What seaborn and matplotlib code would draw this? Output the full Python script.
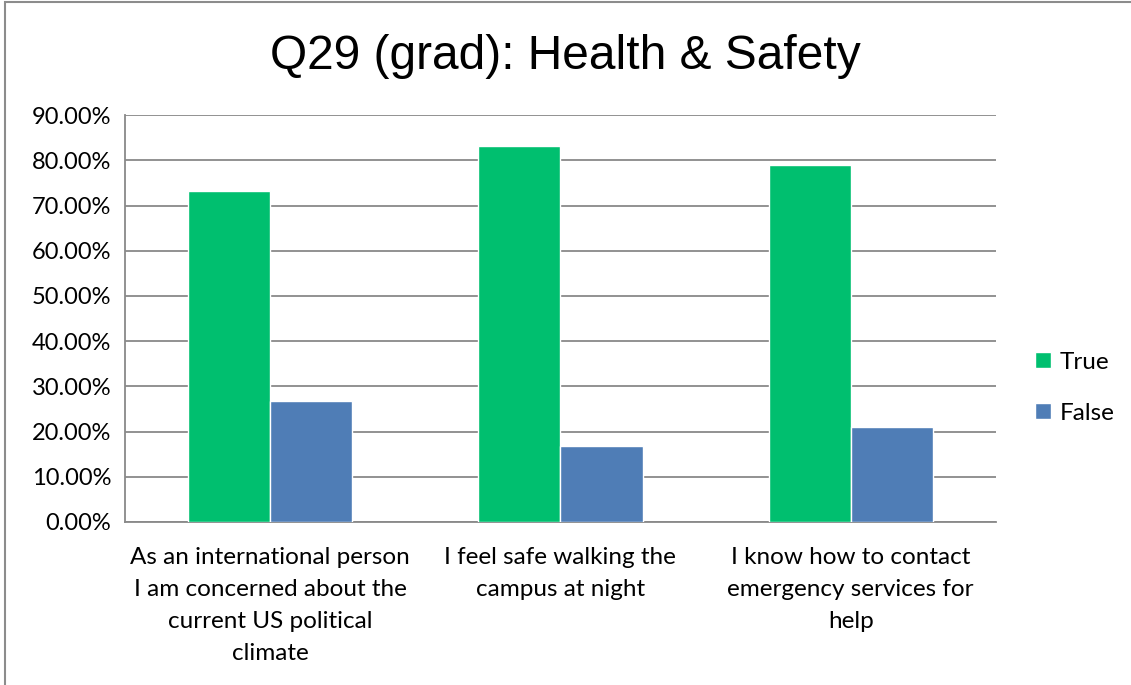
import seaborn as sns
import matplotlib.pyplot as plt
import matplotlib.ticker as mticker
from matplotlib.patches import Rectangle
import pandas as pd

# -----------------------
# Data
# -----------------------
categories = [
    "As an international person\nI am concerned about the\ncurrent US political\nclimate",
    "I feel safe walking the\ncampus at night",
    "I know how to contact\nemergency services for\nhelp",
]
true_vals = [0.732, 0.832, 0.790]
false_vals = [0.268, 0.168, 0.210]
series = ["True", "False"]
colors = ["#00BF6F", "#4F7DB6"]

df = pd.DataFrame({
    "Question": categories * 2,
    "Answer": ["True"] * 3 + ["False"] * 3,
    "Share": true_vals + false_vals,
})

# -----------------------
# Plot
# -----------------------
sns.set_style("white")
plt.rcParams["font.family"] = ["Lato", "DejaVu Sans"]
plt.rcParams["text.color"] = "black"
plt.rcParams["xtick.color"] = "black"
plt.rcParams["ytick.color"] = "black"

fig = plt.figure(figsize=(11.31, 6.85), dpi=100)
ax = fig.add_axes([0.1105, 0.238, 0.770, 0.594])

sns.barplot(
    data=df, x="Question", y="Share", hue="Answer",
    hue_order=series, palette=colors, width=0.566,
    saturation=1, ax=ax, zorder=3,
)

grid_c = "#898989"
ax.set_ylim(0, 0.9)
ax.set_xlim(-0.5, 2.5)
ax.yaxis.set_major_locator(mticker.MultipleLocator(0.1))
ax.yaxis.set_major_formatter(mticker.FuncFormatter(lambda v, p: f"{v * 100:.2f}%"))
ax.grid(axis="y", color=grid_c, linewidth=1.3, zorder=0)
ax.set_axisbelow(True)

for s in ["top", "right"]:
    ax.spines[s].set_visible(False)
for s in ["left", "bottom"]:
    ax.spines[s].set_color(grid_c)
    ax.spines[s].set_linewidth(1.3)

# category separators as outward ticks on x
ax.set_xticks([0, 1, 2])
ax.set_xticklabels(categories, fontsize=17.5, linespacing=1.65, va="top")
ax.set_xticks([-0.5, 0.5, 1.5, 2.5], minor=True)
ax.tick_params(axis="x", which="major", length=0, pad=18)
ax.tick_params(axis="x", which="minor", length=7, width=1.3, color=grid_c, direction="out")
ax.tick_params(axis="y", length=6, width=1.3, color=grid_c, labelcolor="black",
               direction="out", labelsize=17, pad=4)
ax.set_xlabel("")
ax.set_ylabel("")

ax.legend(
    loc="center left", bbox_to_anchor=(1.02, 0.33), frameon=False,
    fontsize=17.5, handlelength=0.65, handleheight=0.65, labelspacing=1.25,
    handletextpad=0.35,
)

fig.text(0.5, 0.917, "Q29 (grad): Health & Safety", fontsize=34.5, ha="center",
         va="center", family=["Liberation Sans", "DejaVu Sans"])

# chart area border
fig.patches.append(Rectangle((0.004, -0.01), 1.1, 1.007, transform=fig.transFigure,
                             fill=False, edgecolor="#8c8c8c", linewidth=1.5))

plt.savefig("out.png", dpi=100)
